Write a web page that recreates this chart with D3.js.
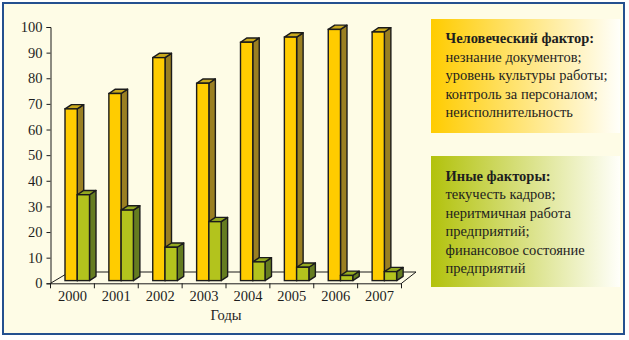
<!DOCTYPE html>
<html>
<head>
<meta charset="utf-8">
<script src="https://cdn.jsdelivr.net/npm/d3@7/dist/d3.min.js"></script>
<style>
  html, body { margin: 0; padding: 0; background: #ffffff; }
  svg { display: block; }
  text { font-family: "Liberation Serif", "Times New Roman", serif; fill: #1e1e1e; }
</style>
</head>
<body>
<svg id="chart" width="629" height="340"></svg>
<script>
// Share of document-related problems by cause, per year
const years = ["2000", "2001", "2002", "2003", "2004", "2005", "2006", "2007"];
const humanFactor = [67, 73, 87, 77, 93, 95, 98, 97];
const otherFactors = [33.5, 27.5, 13, 23, 7.3, 5.2, 2, 3.5];
const yTicks = [0, 10, 20, 30, 40, 50, 60, 70, 80, 90, 100];
const xTitle = "Годы";

const legendHuman = ["Человеческий фактор:", "незнание документов;", "уровень культуры работы;", "контроль за персоналом;", "неисполнительность"];
const legendOther = ["Иные факторы:", "текучесть кадров;", "неритмичная работа", "предприятий;", "финансовое состояние", "предприятий"];

const series = [
  { key: "human", values: humanFactor, front: "#FFCC00", side: "#9A7F22", top: "#C9A91C" },
  { key: "other", values: otherFactors, front: "#B3C31D", side: "#657C20", top: "#93A920" }
];

const svg = d3.select("#chart");

// panel background and frame
svg.append("rect")
  .attr("x", 3).attr("y", 3).attr("width", 621).attr("height", 331)
  .attr("fill", "#FEFCE6").attr("stroke", "#24508F").attr("stroke-width", 2);

const x = d3.scaleBand().domain(years).range([50.5, 401.5]);
const x1 = d3.scaleBand().domain(series.map(s => s.key)).range([10, 34.5]);
const y = d3.scaleLinear().domain([0, 100]).range([283.3, 27]);

const ink = "#1b1b1b";

// floor outline
const y0 = y(0);
svg.append("path")
  .attr("d", `M${x.range()[0]},${y0} L${x.range()[0] + 19},${y0 - 11.3} L${x.range()[1] + 14.5},${y0 - 11.3} L${x.range()[1]},${y0}`)
  .attr("fill", "none").attr("stroke", ink).attr("stroke-width", 1);

// 3D columns
const shiftX = 4.5, shiftY = 2.7;   // bars stand slightly behind the front plane
const depthX = 6.5, depthY = 4.3;   // column depth
const baseY = y0 - shiftY;

const g = svg.append("g");
years.forEach((yr, i) => {
  series.forEach(s => {
    const v = s.values[i];
    const bx = x(yr) + x1(s.key) + shiftX;
    const bw = x1.bandwidth();
    const top = baseY - (y0 - y(v));
    // side face
    g.append("path")
      .attr("d", `M${bx + bw},${baseY} L${bx + bw + depthX},${baseY - depthY} L${bx + bw + depthX},${top - depthY} L${bx + bw},${top} Z`)
      .attr("fill", s.side).attr("stroke", ink).attr("stroke-width", 1.4).attr("stroke-linejoin", "round");
    // top face
    g.append("path")
      .attr("d", `M${bx},${top} L${bx + depthX},${top - depthY} L${bx + bw + depthX},${top - depthY} L${bx + bw},${top} Z`)
      .attr("fill", s.top).attr("stroke", ink).attr("stroke-width", 1.4).attr("stroke-linejoin", "round");
    // front face
    g.append("rect")
      .attr("x", bx).attr("y", top).attr("width", bw).attr("height", baseY - top)
      .attr("fill", s.front).attr("stroke", ink).attr("stroke-width", 1.4);
  });
});

// value axis
const yAxis = svg.append("g")
  .attr("transform", "translate(50.5,0)")
  .call(d3.axisLeft(y).tickValues(yTicks).tickSize(4).tickPadding(4));
yAxis.selectAll("path, line").attr("stroke", ink).attr("stroke-width", 1);
yAxis.selectAll("text").attr("font-size", 14.5).attr("font-family", "Liberation Serif").attr("fill", "#1e1e1e");

// category axis: labels at band centres, ticks on band boundaries
const xAxis = svg.append("g")
  .attr("transform", `translate(0,${y0})`)
  .call(d3.axisBottom(x).tickSize(0).tickPadding(7));
xAxis.select(".domain").attr("stroke", ink).attr("stroke-width", 1);
xAxis.selectAll("text").attr("font-size", 14.5).attr("font-family", "Liberation Serif").attr("fill", "#1e1e1e");
const bounds = years.map(d => x(d)).concat([x.range()[1]]);
svg.append("g").selectAll("line").data(bounds).join("line")
  .attr("x1", d => d).attr("x2", d => d)
  .attr("y1", y0).attr("y2", y0 + 5)
  .attr("stroke", ink).attr("stroke-width", 1);

svg.append("text")
  .attr("x", (x.range()[0] + x.range()[1]) / 2).attr("y", 319.5)
  .attr("text-anchor", "middle").attr("font-size", 14.5)
  .text(xTitle);

// legend boxes with fading fills
const defs = svg.append("defs");
function grad(id, color) {
  const lg = defs.append("linearGradient").attr("id", id)
    .attr("x1", "0%").attr("x2", "100%").attr("y1", "0%").attr("y2", "0%");
  lg.append("stop").attr("offset", "0%").attr("stop-color", color);
  lg.append("stop").attr("offset", "100%").attr("stop-color", "#FFFFFA");
}
grad("gHuman", "#FFCC00");
grad("gOther", "#B2C20C");

function legendBox(lines, fillId, bx, by, bw, bh, firstBase, step) {
  svg.append("rect").attr("x", bx).attr("y", by).attr("width", bw).attr("height", bh)
    .attr("fill", `url(#${fillId})`);
  const t = svg.append("text").attr("font-size", 14.5);
  lines.forEach((ln, i) => {
    t.append("tspan")
      .attr("x", bx + 14.5).attr("y", firstBase + i * step)
      .attr("font-weight", i === 0 ? "bold" : "normal")
      .text(ln);
  });
}
legendBox(legendHuman, "gHuman", 431, 19, 189, 114, 43, 18.5);
legendBox(legendOther, "gOther", 431, 156, 189, 131, 180.5, 18.5);
</script>
</body>
</html>
